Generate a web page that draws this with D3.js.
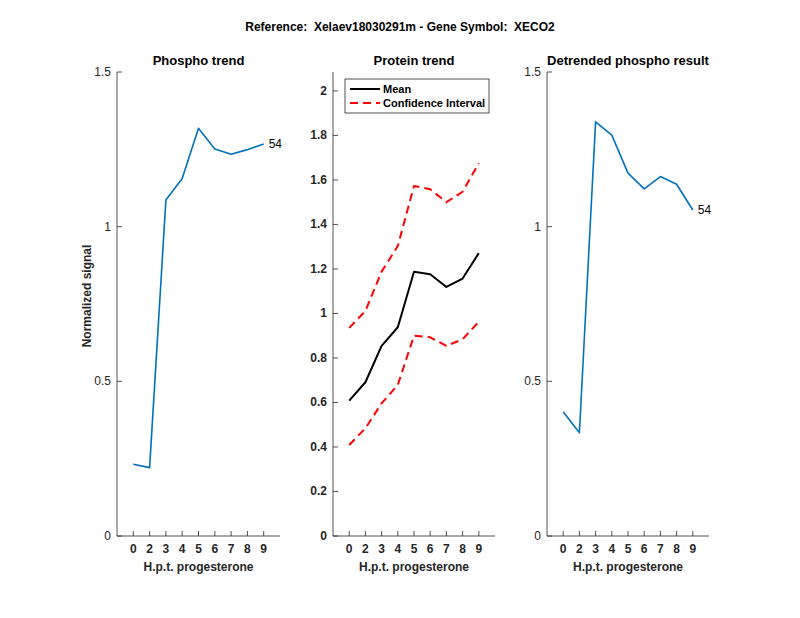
<!DOCTYPE html>
<meta charset="utf-8">
<script src="https://d3js.org/d3.v7.min.js"></script>
<style>
  body { margin: 0; background: #fff; }
  text { font-family: "Liberation Sans", Arial, sans-serif; fill: #262626; white-space: pre; }
</style>
<body>
<div id="chart"></div>
<script>

var timeLabels = ["0", "2", "3", "4", "5", "6", "7", "8", "9"];
var phospho = [0.232, 0.221, 1.086, 1.156, 1.318, 1.251, 1.234, 1.249, 1.267];
var proteinMean = [0.608, 0.691, 0.854, 0.938, 1.187, 1.176, 1.119, 1.157, 1.271];
var proteinLower = [0.409, 0.484, 0.596, 0.679, 0.900, 0.893, 0.854, 0.884, 0.963];
var proteinUpper = [0.935, 1.011, 1.188, 1.303, 1.573, 1.558, 1.500, 1.547, 1.675];
var detrended = [0.402, 0.334, 1.339, 1.296, 1.173, 1.122, 1.162, 1.137, 1.054];
var phosphoTicks = [0, 0.5, 1, 1.5];
var proteinTicks = [0, 0.2, 0.4, 0.6, 0.8, 1, 1.2, 1.4, 1.6, 1.8, 2];
var peptideLabel = "54";

var svg = d3.select("#chart").append("svg")
    .attr("width", 800)
    .attr("height", 618);

svg.append("text")
    .attr("x", 400).attr("y", 31)
    .attr("text-anchor", "middle")
    .attr("font-size", "12px")
    .attr("font-weight", "bold")
    .attr("xml:space", "preserve")
    .style("fill", "#000")
    .text("Reference:  Xelaev18030291m - Gene Symbol:  XECO2");

var plotTop = 72, plotBottom = 536;

function panel(left, right, yMax, yTicks, title, boldTicks) {
  var g = svg.append("g");
  var x = d3.scaleLinear().domain([0, 10]).range([left, right]);
  var y = d3.scaleLinear().domain([0, yMax]).range([plotBottom, plotTop]);

  // axes lines
  g.append("line").attr("x1", left).attr("x2", left).attr("y1", plotTop).attr("y2", plotBottom)
      .attr("stroke", "#262626").attr("stroke-width", 0.8);
  g.append("line").attr("x1", left).attr("x2", right).attr("y1", plotBottom).attr("y2", plotBottom)
      .attr("stroke", "#262626").attr("stroke-width", 0.8);

  // y ticks (inward)
  yTicks.forEach(function (t) {
    g.append("line").attr("x1", left).attr("x2", left + 5)
        .attr("y1", y(t)).attr("y2", y(t))
        .attr("stroke", "#262626").attr("stroke-width", 0.8);
    g.append("text").attr("x", left - 6).attr("y", y(t) + 4)
        .attr("text-anchor", "end")
        .attr("font-size", "12px")
        .attr("font-weight", boldTicks ? "bold" : "normal")
        .text(t);
  });

  // x ticks (inward)
  timeLabels.forEach(function (lab, i) {
    g.append("line").attr("x1", x(i + 1)).attr("x2", x(i + 1))
        .attr("y1", plotBottom).attr("y2", plotBottom - 5)
        .attr("stroke", "#262626").attr("stroke-width", 0.8);
    g.append("text").attr("x", x(i + 1)).attr("y", plotBottom + 17)
        .attr("text-anchor", "middle")
        .attr("font-size", "12px")
        .attr("font-weight", "bold")
        .text(lab);
  });

  g.append("text")
      .attr("x", (left + right) / 2).attr("y", plotBottom + 35)
      .attr("text-anchor", "middle")
      .attr("font-size", "12px")
      .attr("font-weight", "bold")
      .text("H.p.t. progesterone");

  g.append("text")
      .attr("x", (left + right) / 2).attr("y", 65)
      .attr("text-anchor", "middle")
      .attr("font-size", "13px")
      .attr("font-weight", "bold")
      .style("fill", "#000")
      .text(title);

  return {g: g, x: x, y: y};
}

function drawLine(p, values, color, width, dash) {
  var line = d3.line()
      .x(function (d, i) { return p.x(i + 1); })
      .y(function (d) { return p.y(d); });
  p.g.append("path")
      .datum(values)
      .attr("d", line)
      .attr("fill", "none")
      .attr("stroke", color)
      .attr("stroke-width", width)
      .attr("stroke-dasharray", dash || null)
      .attr("stroke-linejoin", "round");
}

// panel 1
var p1 = panel(117, 280, 1.5, phosphoTicks, "Phospho trend", false);
drawLine(p1, phospho, "#0072BD", 1.6);
p1.g.append("text")
    .attr("x", p1.x(9) + 5).attr("y", p1.y(phospho[8]) + 4)
    .attr("font-size", "12px")
    .style("fill", "#000")
    .text(peptideLabel);

svg.append("text")
    .attr("transform", "translate(91,296) rotate(-90)")
    .attr("text-anchor", "middle")
    .attr("font-size", "12px")
    .attr("font-weight", "bold")
    .text("Normalized signal");

// panel 2
var p2 = panel(333, 495, 2.085, proteinTicks, "Protein trend", true);
drawLine(p2, proteinMean, "#000", 2);
drawLine(p2, proteinUpper, "#ff0000", 2, "8,5");
drawLine(p2, proteinLower, "#ff0000", 2, "8,5");

var leg = p2.g.append("g");
leg.append("rect")
    .attr("x", 345).attr("y", 79).attr("width", 144).attr("height", 34)
    .attr("fill", "#fff").attr("stroke", "#262626").attr("stroke-width", 0.8);
leg.append("line").attr("x1", 350).attr("x2", 380).attr("y1", 89).attr("y2", 89)
    .attr("stroke", "#000").attr("stroke-width", 2);
leg.append("line").attr("x1", 350).attr("x2", 380).attr("y1", 103).attr("y2", 103)
    .attr("stroke", "#ff0000").attr("stroke-width", 2).attr("stroke-dasharray", "8,5");
leg.append("text").attr("x", 383).attr("y", 93)
    .attr("font-size", "11px").attr("font-weight", "bold").style("fill", "#000").text("Mean");
leg.append("text").attr("x", 383).attr("y", 107)
    .attr("font-size", "11px").attr("font-weight", "bold").style("fill", "#000").text("Confidence Interval");

// panel 3
var p3 = panel(547, 709, 1.5, phosphoTicks, "Detrended phospho result", false);
drawLine(p3, detrended, "#0072BD", 1.6);
p3.g.append("text")
    .attr("x", p3.x(9) + 5).attr("y", p3.y(detrended[8]) + 4)
    .attr("font-size", "12px")
    .style("fill", "#000")
    .text(peptideLabel);

</script>
</body>
